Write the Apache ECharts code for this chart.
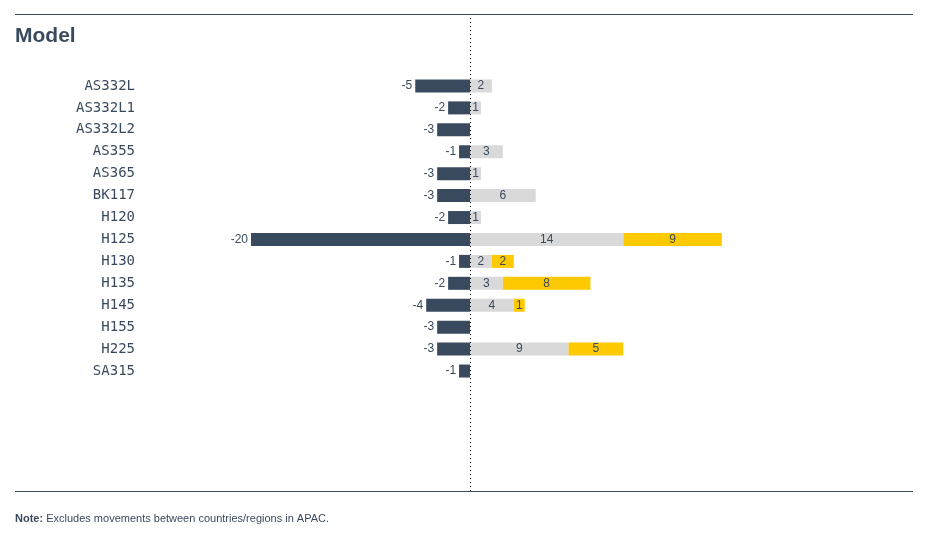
<!DOCTYPE html>
<html><head><meta charset="utf-8">
<script src="https://cdn.jsdelivr.net/npm/echarts@6/dist/echarts.min.js"></script>
<style>html,body{margin:0;padding:0;background:#fff}#c{width:940px;height:546px}</style>
</head><body><div id="c"></div>
<script>
const categories = ['AS332L','AS332L1','AS332L2','AS355','AS365','BK117','H120','H125','H130','H135','H145','H155','H225','SA315'];
const outflow = [-5,-2,-3,-1,-3,-3,-2,-20,-1,-2,-4,-3,-3,-1];
const inflowA = [2,1,null,3,1,6,1,14,2,3,4,null,9,null];
const inflowB = [null,null,null,null,null,null,null,9,2,8,1,null,5,null];
const zeroLine = [0];

const dark = '#3a4a5e', grey = '#d9d9d9', yellow = '#fdc900';
const mono = '"DejaVu Sans Mono", "Liberation Mono", monospace';
const sans = '"Liberation Sans", Arial, sans-serif';
const chart = echarts.init(document.getElementById('c'));
chart.setOption({
  animation: false,
  title: {text: 'Model', left: 15, top: 26, padding: 0, textStyle: {fontFamily: sans, fontWeight: 'bold', fontSize: 21, color: dark}},
  graphic: [
    {type: 'line', shape: {x1: 15, y1: 14.5, x2: 913, y2: 14.5}, style: {stroke: dark, lineWidth: 1}},
    {type: 'line', shape: {x1: 15, y1: 491.5, x2: 913, y2: 491.5}, style: {stroke: dark, lineWidth: 1}},
    {type: 'text', left: 15, top: 513, style: {text: '{b|Note:} Excludes movements between countries/regions in APAC.', rich: {b: {fontWeight: 'bold', fontSize: 11, fontFamily: sans, fill: dark}}, fontSize: 11, fontFamily: sans, fill: dark}}
  ],
  grid: [
    {left: 251, width: 657, top: 75, height: 307},
    {left: 251, width: 657, top: 15, height: 476}
  ],
  xAxis: [
    {gridIndex: 0, type: 'value', min: -20, max: 40, show: false},
    {gridIndex: 1, type: 'value', min: -20, max: 40, show: false}
  ],
  yAxis: [
    {gridIndex: 0, type: 'category', data: categories, inverse: true,
     axisLine: {show: false}, axisTick: {show: false}, splitLine: {show: false},
     axisLabel: {margin: 116, fontFamily: mono, fontSize: 14, color: dark}},
    {gridIndex: 1, type: 'category', data: ['z'], show: false}
  ],
  series: [
    {type: 'bar', name: 'out', stack: 's', data: outflow, barWidth: 13, itemStyle: {color: dark},
     label: {show: true, position: 'left', distance: 3, fontFamily: sans, fontSize: 12, color: dark}},
    {type: 'bar', name: 'inA', stack: 's', data: inflowA, barWidth: 13, itemStyle: {color: grey},
     label: {show: true, position: 'inside', fontFamily: sans, fontSize: 12, color: dark}},
    {type: 'bar', name: 'inB', stack: 's', data: inflowB, barWidth: 13, itemStyle: {color: yellow},
     label: {show: true, position: 'inside', fontFamily: sans, fontSize: 12, color: dark}},
    {type: 'scatter', xAxisIndex: 1, yAxisIndex: 1, data: [], silent: true,
     markLine: {silent: true, symbol: 'none', label: {show: false},
       lineStyle: {color: '#000', type: [1, 3], width: 1},
       data: zeroLine.map(v => ({xAxis: v}))}}
  ]
});
</script></body></html>
